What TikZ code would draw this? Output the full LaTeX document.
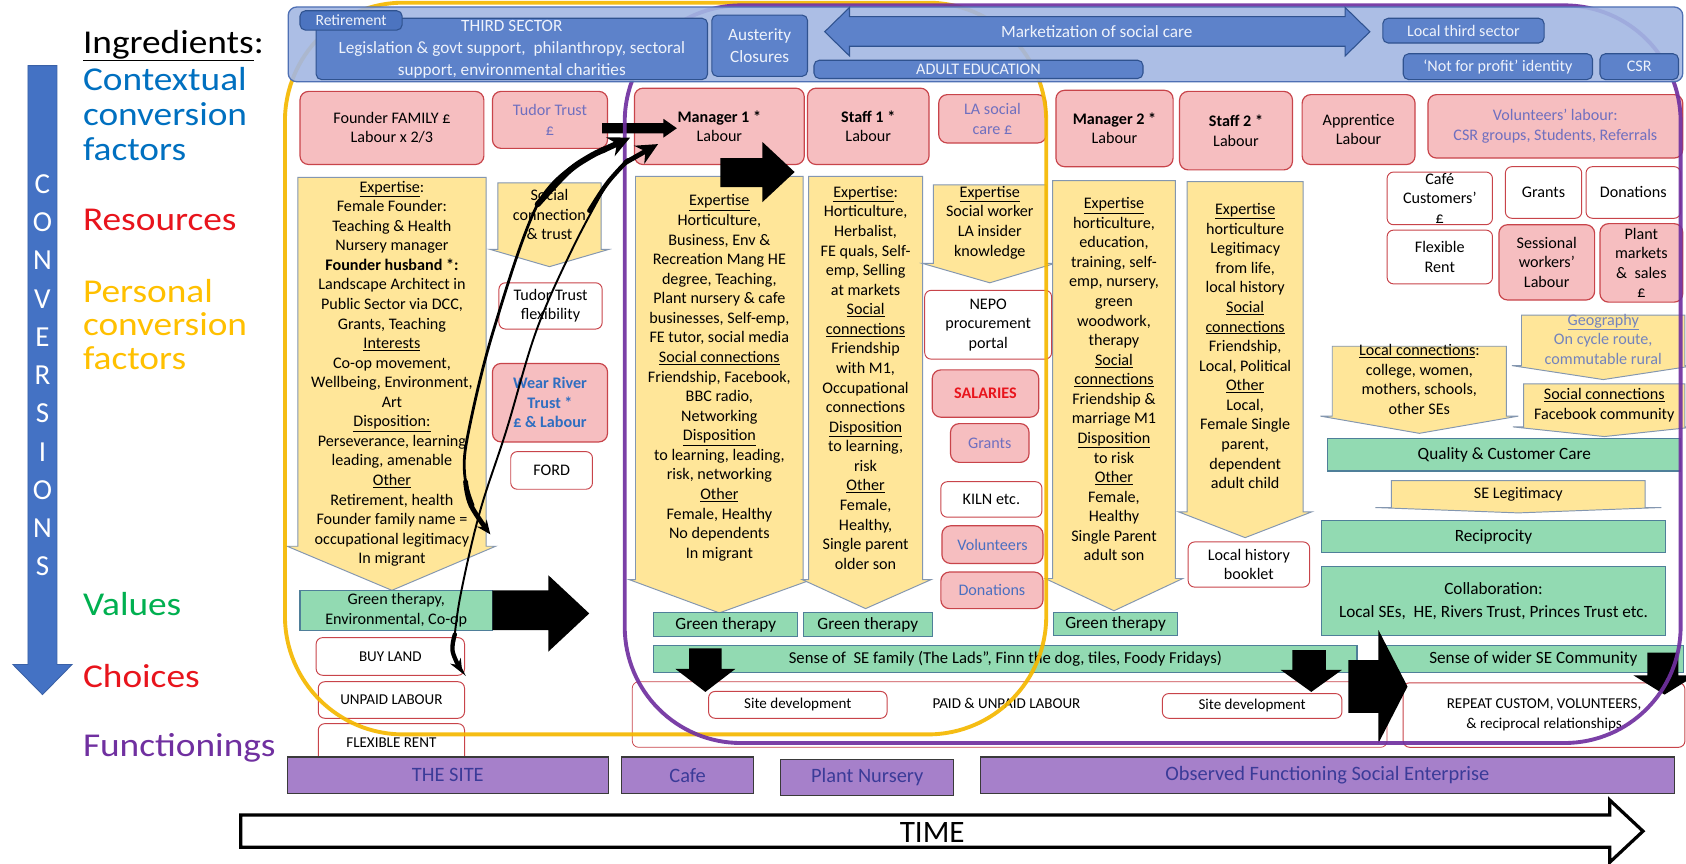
\documentclass[tikz,border=0pt]{standalone}
\usepackage{fontspec}
\setmainfont{Carlito}
\newfontfamily\legendfont{Carlito}[FakeStretch=1.12]
\usetikzlibrary{arrows.meta}

\definecolor{pinkfill}{HTML}{F6BEC0}
\definecolor{pinkdraw}{HTML}{C8444A}
\definecolor{yelfill}{HTML}{FFE699}
\definecolor{yeldraw}{HTML}{8497B0}
\definecolor{grnfill}{HTML}{92DAB2}
\definecolor{grndraw}{HTML}{4F7F99}
\definecolor{purfill}{HTML}{A680CA}
\definecolor{purdraw}{HTML}{3A3A3A}
\definecolor{purtext}{HTML}{3B3B98}
\definecolor{banfill}{HTML}{A3B7E3}
\definecolor{bandraw}{HTML}{4F70B4}
\definecolor{inboxfill}{HTML}{5D82CA}
\definecolor{retfill}{HTML}{4C74C0}
\definecolor{inboxdraw}{HTML}{2F528F}
\definecolor{lighttext}{HTML}{EEF2FB}
\definecolor{lavtext}{HTML}{6F6FBF}
\definecolor{geotext}{HTML}{7383BD}
\definecolor{bluetext}{HTML}{2F6EC0}
\definecolor{midblue}{HTML}{4A6FC0}
\definecolor{ctxblue}{HTML}{0070C0}
\definecolor{resred}{HTML}{E8141C}
\definecolor{persyel}{HTML}{FFC000}
\definecolor{valgreen}{HTML}{00B050}
\definecolor{funpurple}{HTML}{7030A0}
\definecolor{convblue}{HTML}{4472C4}
\definecolor{outyellow}{HTML}{F5B800}
\definecolor{outpurple}{HTML}{7030A0}

\newcommand{\fs}[2]{\fontsize{#1}{#2}\selectfont}

% box between two corners: name, x1, y1, x2, y2, style, text
\newcommand{\mkbox}[7]{%
  \pgfmathsetmacro\mkW{#4-#2}\pgfmathsetmacro\mkH{#5-#3}%
  \pgfmathsetmacro\mkX{(#2+#4)/2}\pgfmathsetmacro\mkY{(#3+#5)/2}%
  \node[#6, minimum width=\mkW pt, minimum height=\mkH pt] (#1) at (\mkX,\mkY) {#7};}

% yellow downward arrow: x1, x2, ytop, yshoulder, xleft, xright, ytip
\newcommand{\yarrow}[7]{%
  \filldraw[ybody] (#1,#3) -- (#2,#3) -- (#2,#4) -- (#6,#4) -- ({(#1+#2)/2},#7)
    -- (#5,#4) -- (#1,#4) -- cycle;}

% black block arrow to the right: x1, x2, body y1, body y2, head y1, head y2, tip x
\newcommand{\blkright}[7]{%
  \fill[blk] (#1,#3) -- (#2,#3) -- (#2,#5) -- (#7,{(#5+#6)/2}) -- (#2,#6)
    -- (#2,#4) -- (#1,#4) -- cycle;}

% black block arrow downwards: body x1, body x2, y1, y2, head x1, head x2, tip y
\newcommand{\blkdown}[7]{%
  \fill[blk] (#1,#3) -- (#2,#3) -- (#2,#4) -- (#6,#4) -- ({(#5+#6)/2},#7)
    -- (#5,#4) -- (#1,#4) -- cycle;}

\tikzset{
  every node/.style={inner sep=0pt},
  txt/.style={font=\fs{15}{18.2}, align=center},
  pinkbox/.style={txt, draw=pinkdraw, fill=pinkfill, rounded corners=8pt, line width=1.1pt},
  whitebox/.style={txt, draw=pinkdraw, fill=white, rounded corners=6pt, line width=0.9pt},
  grnbar/.style={txt, draw=grndraw, fill=grnfill, line width=1pt},
  purbar/.style={draw=purdraw, fill=purfill, line width=1pt, text=purtext, font=\fs{19}{22}},
  inbox/.style={txt, draw=inboxdraw, fill=inboxfill, rounded corners=5pt, line width=1pt, text=lighttext},
  ybody/.style={draw=yeldraw, fill=yelfill, line width=0.9pt, line join=miter},
  ytext/.style={txt, anchor=north, execute at begin node=\strut},
  blk/.style={fill=black},
  lbl/.style={font=\legendfont\fs{31}{34}, anchor=base west},
  curveline/.style={line cap=round, line join=round},
  curvehead/.style={line cap=round, -{Stealth[length=20pt,width=19pt]}},
  curvetail/.style={line cap=round, -{Stealth[length=13pt,width=11pt]}},
}

\begin{document}
\begin{tikzpicture}[x=1pt,y=-1pt]
\useasboundingbox (0,0) rectangle (1568,803);
\fill[white] (0,0) rectangle (1568,803);

% ---------- legend ----------
\node[lbl] (ingr) at (77,49.5) {\underline{Ingredients}:};
\node[lbl, text=ctxblue] (ctxa) at (77,84) {Contextual};
\node[lbl, text=ctxblue] (ctxb) at (77,117) {conversion};
\node[lbl, text=ctxblue] (ctxc) at (77,149) {factors};
\node[lbl, text=resred] (res) at (77,214) {Resources};
\node[lbl, text=persyel] (pera) at (77,281) {Personal};
\node[lbl, text=persyel] (perb) at (77,312) {conversion};
\node[lbl, text=persyel] (perc) at (77,344) {factors};
\node[lbl, text=valgreen] (val) at (77,572) {Values};
\node[lbl, text=resred] (cho) at (77,639) {Choices};
\node[lbl, text=funpurple] (fun) at (77,704) {Functionings};

\filldraw[fill=convblue, draw=convblue!85!black, line width=0.8pt, line join=miter]
  (26,61) -- (53,61) -- (53,618) -- (67,618) -- (39.5,646) -- (12,618) -- (26,618) -- cycle;
\foreach \ch [count=\i from 0] in {C,O,N,V,E,R,S,I,O,N,S}
  \node[font=\fs{27}{30}, text=white] (conv\i) at (39.5,{171+\i*35.6}) {\ch};

% ---------- resources row ----------
\mkbox{famres}{279}{85}{450}{153}{pinkbox}{Founder FAMILY £\\Labour x 2/3}
\mkbox{tudor}{458}{85}{565}{138}{pinkbox,text=lavtext}{Tudor Trust\\£}
\mkbox{mgra}{590}{82}{748}{153}{pinkbox}{\textbf{Manager 1 *}\\Labour}
\mkbox{stfa}{751}{82}{864}{153}{pinkbox}{\textbf{Staff 1 *}\\Labour}
\mkbox{lasoc}{873}{88}{973}{133}{pinkbox,text=lavtext}{LA social\\care £}
\mkbox{mgrb}{982}{84}{1091}{155}{pinkbox}{\textbf{Manager 2 *}\\Labour}
\mkbox{stfb}{1097}{85}{1202}{158}{pinkbox}{\textbf{Staff 2 *}\\Labour}
\mkbox{appr}{1211}{88}{1316}{153}{pinkbox}{Apprentice\\Labour}
\mkbox{vols}{1328}{88}{1565}{147}{pinkbox,text=lavtext}{Volunteers’ labour:\\CSR groups, Students, Referrals}

\mkbox{cafe}{1290}{160}{1388}{209}{whitebox}{Café\\Customers’\\£}
\mkbox{grr}{1400}{155}{1471}{203}{whitebox}{Grants}
\mkbox{donr}{1475}{155}{1563}{203}{whitebox}{Donations}
\mkbox{flexr}{1290}{214}{1388}{264}{whitebox}{Flexible\\Rent}
\mkbox{sess}{1394}{209}{1483}{279}{pinkbox}{Sessional\\workers’\\Labour}
\mkbox{plmk}{1488}{208}{1565}{281}{pinkbox}{Plant\\markets\\\&\ \ sales\\£}

% ---------- personal conversion factors (yellow arrows) ----------
\yarrow{277}{452}{165}{508}{267}{461}{549}
\node[ytext] (yfound) at (364.5,168) {\underline{Expertise}:\\Female Founder:\\Teaching \& Health\\Nursery manager\\\textbf{Founder husband *:}\\Landscape Architect in\\Public Sector via DCC,\\Grants, Teaching\\\underline{Interests}\\Co-op movement,\\Wellbeing, Environment,\\Art\\\underline{Disposition:}\\Perseverance, learning\\leading, amenable\\\underline{Other}\\Retirement, health\\Founder family name =\\occupational legitimacy\\In migrant};

\yarrow{463}{559}{170}{232}{456}{566}{248}
\node[ytext] (ysoc) at (511,176) {Social\\connection\\\& trust};

\yarrow{591}{747}{164}{539}{585}{755}{570}
\node[ytext] (ymgra) at (669,181) {\underline{Expertise}\\Horticulture,\\Business, Env \&\\Recreation Mang HE\\degree, Teaching,\\Plant nursery \& cafe\\businesses, Self-emp,\\FE tutor, social media\\\underline{Social connections}\\Friendship, Facebook,\\BBC radio,\\Networking\\\underline{Disposition}\\to learning, leading,\\risk, networking\\\underline{Other}\\Female, Healthy\\No dependents\\In migrant};

\yarrow{752}{858}{164}{539}{746}{866}{566}
\node[ytext] (ystfa) at (805,173) {\underline{Expertise}:\\Horticulture,\\Herbalist,\\FE quals, Self-\\emp, Selling\\at markets\\\underline{Social}\\\underline{connections}\\Friendship\\with M1,\\Occupational\\connections\\\underline{Disposition}\\to learning,\\risk\\\underline{Other}\\Female,\\Healthy,\\Single parent\\older son};

\yarrow{868}{973}{172}{245}{858}{981}{263}
\node[ytext] (yla) at (920.5,173) {\underline{Expertise}\\Social worker\\LA insider\\knowledge};

\yarrow{979}{1093}{168}{538}{972}{1100}{568}
\node[ytext] (ymgrb) at (1036,183.5) {\underline{Expertise}\\horticulture,\\education,\\training, self-\\emp, nursery,\\green\\woodwork,\\therapy\\\underline{Social}\\\underline{connections}\\Friendship \&\\marriage M1\\\underline{Disposition}\\to risk\\\underline{Other}\\Female,\\Healthy\\Single Parent\\adult son};

\yarrow{1104}{1212}{169}{476}{1096}{1220}{500}
\node[ytext] (ystfb) at (1158,189) {\underline{Expertise}\\horticulture\\Legitimacy\\from life,\\local history\\\underline{Social}\\\underline{connections}\\Friendship,\\Local, Political\\\underline{Other}\\Local,\\Female Single\\parent,\\dependent\\adult child};

\yarrow{1415}{1567}{293}{340}{1406}{1576}{353}
\node[ytext, text=geotext] (ygeo) at (1491,292) {\underline{Geography}\\On cycle route,\\commutable rural};

\yarrow{1239}{1401}{322}{387}{1228}{1412}{403}
\node[ytext] (yloc) at (1320,320) {\underline{Local connections}:\\college, women,\\mothers, schools,\\other SEs};

\yarrow{1417}{1567}{357}{397}{1407}{1577}{406}
\node[ytext] (yfb) at (1492,361) {\underline{Social connections}\\Facebook community};

\yarrow{1294}{1530}{447}{472}{1279}{1545}{477}
\node[ytext] (ysel) at (1412,451) {SE Legitimacy};

% ---------- contextual resources beside the columns ----------
\mkbox{tflex}{464}{263}{560}{306}{whitebox}{Tudor Trust\\flexibility}
\mkbox{wear}{458}{338}{565}{411}{pinkbox,text=bluetext,font=\bfseries\fs{15}{18.2}}{Wear River\\Trust *\\£ \& Labour}
\mkbox{ford}{475}{420}{551}{455}{whitebox}{FORD}

\mkbox{nepo}{860}{270}{978}{334}{whitebox}{NEPO\\procurement\\portal}
\mkbox{sal}{867}{344}{966}{388}{pinkbox,text=resred,font=\bfseries\fs{15}{18.2}}{SALARIES}
\mkbox{grl}{884}{394}{957}{430}{pinkbox,text=lavtext}{Grants}
\mkbox{kiln}{875}{448}{969}{481}{whitebox}{KILN etc.}
\mkbox{voll}{876}{489}{970}{524}{pinkbox,text=midblue}{Volunteers}
\mkbox{donl}{875}{532}{970}{566}{pinkbox,text=midblue}{Donations}

\mkbox{book}{1105}{504}{1218}{546}{whitebox}{Local history\\booklet}

% ---------- values ----------
\mkbox{gtf}{279}{549}{458}{586}{grnbar,font=\fs{15}{19.5}}{Green therapy,\\Environmental, Co-op}
\mkbox{gta}{608}{570}{742}{592}{grnbar,font=\fs{16}{18}}{Green therapy}
\mkbox{gtb}{747}{570}{867}{592}{grnbar,font=\fs{16}{18}}{Green therapy}
\mkbox{gtc}{980}{570}{1095}{591}{grnbar,font=\fs{16}{18}}{Green therapy}
\mkbox{qual}{1235}{408}{1563}{438}{grnbar,font=\fs{16}{18}}{Quality \& Customer Care}
\mkbox{recip}{1229}{484}{1549}{514}{grnbar,font=\fs{16}{18}}{Reciprocity}
\mkbox{collab}{1229}{527}{1549}{591}{grnbar,font=\fs{16}{21}}{Collaboration:\\Local SEs,\ \ HE, Rivers Trust, Princes Trust etc.}

% ---------- choices ----------
\mkbox{buy}{294}{593}{432}{628}{whitebox,font=\fs{14}{17}}{BUY LAND}
\mkbox{unp}{296}{634}{432}{668}{whitebox,font=\fs{14}{17}}{UNPAID LABOUR}
\mkbox{flx}{296}{673}{432}{709}{whitebox,font=\fs{14}{17}}{FLEXIBLE RENT}

\mkbox{paid}{588}{634}{1290}{695}{whitebox,line width=0.7pt}{}
\node[font=\fs{14}{17}] (paidlbl) at (936,654) {PAID \& UNPAID LABOUR};
\mkbox{sda}{659}{643}{825}{668}{whitebox,font=\fs{14}{17}}{Site development}
\mkbox{sdb}{1081}{645}{1248}{668}{whitebox,font=\fs{14}{17}}{Site development}
\mkbox{rep}{1305}{635}{1567}{695}{whitebox,font=\fs{14}{18.5}}{REPEAT CUSTOM, VOLUNTEERS,\\\& reciprocal relationships}

\mkbox{sefam}{608}{600}{1262}{625}{grnbar,font=\fs{15.5}{18}}{Sense of\ \ SE family (The Lads”, Finn the dog, tiles, Foody Fridays)}
\mkbox{sewide}{1286}{600}{1566}{625}{grnbar,font=\fs{16}{18}}{Sense of wider SE Community}

% ---------- functionings ----------
\mkbox{thesite}{267}{704}{566}{738}{purbar}{THE SITE}
\mkbox{cafeb}{578}{704}{701}{738}{purbar}{Cafe}
\mkbox{nurs}{726}{706}{887}{740}{purbar}{Plant Nursery}
\mkbox{obs}{912}{704}{1557}{738}{purbar}{Observed Functioning Social Enterprise}

% ---------- black block arrows ----------
\blkright{458}{510}{549}{586}{535}{606}{548}
\blkright{670}{709}{147}{174}{132}{188}{739}
\blkright{560}{617}{114.5}{124}{110.5}{128}{629.5}
\blkright{1254}{1282}{614}{663}{586}{691}{1309}
\blkdown{641}{671}{603}{622}{628}{684}{643.5}
\blkdown{1202}{1233}{604.5}{623}{1191}{1248}{643.5}
\blkdown{1532}{1561}{607}{628}{1519}{1577}{646}

% ---------- time-span outlines ----------
\draw[outyellow, line width=3.6pt, rounded corners=110pt, opacity=0.92] (265,2.5) rectangle (973,683);
\draw[outpurple, line width=3.6pt, rounded corners=108pt, opacity=0.92] (581,5) rectangle (1563,691);

% ---------- curved links to Manager 1 ----------
% thicker link from the founder column
\coordinate (ca0) at (456,497);
\coordinate (ca1) at (586,128);
\draw[curveline, line width=2.6pt] plot[smooth, tension=0.6] coordinates
  {(440,470) (432,440) (436,400) (459,307) (500,190) (540,150)};
\draw[curveline, line width=5.5pt] plot[smooth, tension=0.6] coordinates
  {(500,190) (528,160) (548,146) (562,139)};
\draw[curvehead, line width=5.5pt] (560,140) -- (ca1);
\draw[curvetail, line width=4.5pt] plot[smooth, tension=0.6] coordinates
  {(433,448) (438,470) (ca0)};
% thinner link from the choices
\coordinate (cb0) at (430,626);
\coordinate (cb1) at (612,134);
\draw[curveline, line width=1.8pt] plot[smooth, tension=0.6] coordinates
  {(422,600) (428,555) (446,477) (471,400) (499,307) (533,230) (565,170)};
\draw[curveline, line width=4pt] plot[smooth, tension=0.6] coordinates
  {(548,196) (565,170) (584,149)};
\draw[curvehead, line width=4.5pt] (582,151) -- (cb1);
\draw[curvetail, line width=4pt] plot[smooth, tension=0.6] coordinates
  {(423,590) (421,606) (cb0)};

% ---------- contextual conversion factors banner ----------
\filldraw[fill=banfill, draw=bandraw, line width=1.2pt, rounded corners=8pt, fill opacity=0.9]
  (268,6.5) rectangle (1565,76);
\mkbox{third}{294}{17}{658}{74}{inbox,font=\fs{16}{20.5}}{THIRD SECTOR\\Legislation \& govt support,\ \ philanthropy, sectoral\\support, environmental charities}
\mkbox{retire}{279}{10}{374}{28}{inbox,fill=retfill,font=\fs{14.5}{16}}{Retirement}
\mkbox{aust}{662}{14}{751}{71}{inbox,font=\fs{16}{20.5}}{Austerity\\Closures}
\filldraw[fill=inboxfill, draw=inboxdraw, line width=1pt, line join=miter]
  (767,29.5) -- (790,7) -- (790,15.5) -- (1251,15.5) -- (1251,7) -- (1274,29.5)
  -- (1251,52) -- (1251,43) -- (790,43) -- (790,52) -- cycle;
\node[font=\fs{16}{18}, text=lighttext] (mkt) at (1020,29) {Marketization of social care};
\mkbox{adult}{757}{56}{1063}{73}{inbox,font=\fs{15}{17}}{ADULT EDUCATION}
\mkbox{local3}{1286}{17}{1436}{40}{inbox,font=\fs{15}{17}}{Local third sector}
\mkbox{nfp}{1305}{50}{1481}{74}{inbox,font=\fs{15}{17}}{‘Not for profit’ identity}
\mkbox{csr}{1488}{50}{1561}{74}{inbox,font=\fs{15}{17}}{CSR}

% ---------- time axis ----------
\filldraw[fill=white, draw=black, line width=3pt, line join=miter]
  (224,758) -- (1497,758) -- (1497,744) -- (1528,773) -- (1497,802) -- (1497,788) -- (224,788) -- cycle;
\node[font=\fs{29}{32}] (time) at (867,774) {TIME};
\end{tikzpicture}
\end{document}
